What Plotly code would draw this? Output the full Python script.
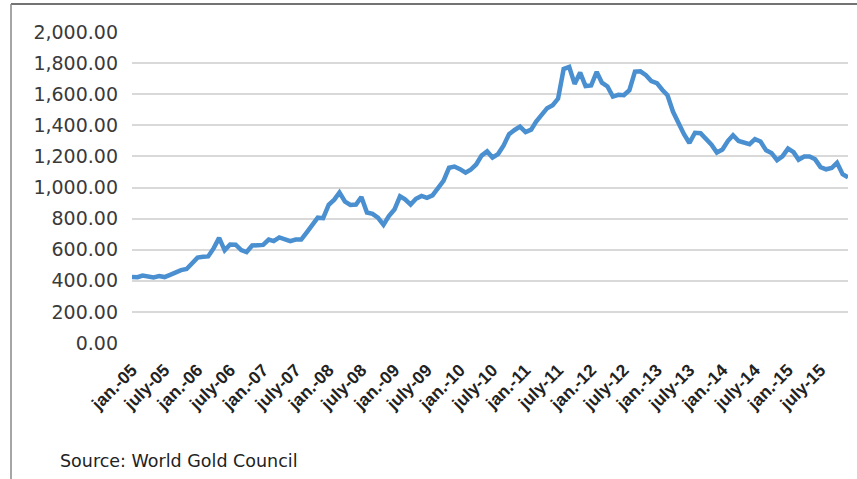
import plotly.graph_objects as go

# Monthly gold price (USD/oz), Jan 2005 - Dec 2015
months = [f"{y}-{m:02d}-01" for y in range(2005, 2016) for m in range(1, 13)]
price_2005 = [424, 423, 434, 429, 422, 430, 424, 438, 456, 469, 476, 510]
price_2006 = [549, 555, 557, 610, 676, 596, 633, 632, 598, 585, 627, 629]
price_2007 = [631, 665, 655, 679, 667, 655, 665, 665, 712, 754, 806, 803]
price_2008 = [889, 922, 968, 909, 888, 890, 939, 839, 830, 806, 760, 816]
price_2009 = [858, 943, 924, 890, 928, 946, 934, 949, 996, 1043, 1127, 1135]
price_2010 = [1118, 1095, 1114, 1148, 1205, 1232, 1193, 1215, 1271, 1343, 1370, 1391]
price_2011 = [1356, 1372, 1424, 1474, 1510, 1529, 1572, 1762, 1775, 1666, 1739, 1652]
price_2012 = [1656, 1743, 1674, 1650, 1585, 1596, 1594, 1626, 1745, 1747, 1722, 1685]
price_2013 = [1671, 1627, 1593, 1487, 1414, 1343, 1286, 1352, 1349, 1316, 1275, 1225]
price_2014 = [1244, 1300, 1336, 1299, 1288, 1279, 1311, 1296, 1239, 1222, 1176, 1200]
price_2015 = [1250, 1227, 1179, 1199, 1199, 1181, 1131, 1117, 1125, 1159, 1086, 1065]
prices = (price_2005 + price_2006 + price_2007 + price_2008 + price_2009 + price_2010
          + price_2011 + price_2012 + price_2013 + price_2014 + price_2015)

tick_dates = [f"{y}-{m:02d}-01" for y in range(2005, 2016) for m in (1, 7)]
tick_labels = [f"{'jan.' if m == 1 else 'july'}-{y % 100:02d}" for y in range(2005, 2016) for m in (1, 7)]
y_ticks = list(range(0, 2001, 200))

W, H = 857, 479
L, R, T, B = 132, 9, 32, 136
pw, ph = W - L - R, H - T - B

fig = go.Figure()
fig.add_trace(go.Scatter(x=months, y=prices, mode="lines",
                         line=dict(color="#4a8fcf", width=4.5), hoverinfo="skip",
                         cliponaxis=False))

fig.update_layout(
    width=W, height=H,
    margin=dict(l=L, r=R, t=T, b=B, autoexpand=False),
    paper_bgcolor="white", plot_bgcolor="white",
    showlegend=False,
    font=dict(family="DejaVu Sans", color="#333333"),
    xaxis=dict(type="date", range=[months[0], months[-1]], automargin=False,
               tickvals=tick_dates, ticktext=tick_labels, tickangle=-45,
               showgrid=False, zeroline=False, showline=False,
               ticks="outside", ticklen=9, tickcolor="rgba(0,0,0,0)",
               tickfont=dict(family="Liberation Sans", size=17.5, color="#222222", weight="bold")),
    yaxis=dict(range=[0, 2000], tickvals=y_ticks, tickformat=",.2f", automargin=False,
               showgrid=True, gridcolor="#d9d9d9", gridwidth=1.5,
               zeroline=False, showline=False, ticks="", ticklabelstandoff=13,
               tickfont=dict(family="DejaVu Sans", size=19, color="#3a3a3a")),
    shapes=[
        dict(type="line", xref="paper", yref="paper",
             x0=(11 - L) / pw, x1=(W - L + 5) / pw,
             y0=(H - B - 4) / ph, y1=(H - B - 4) / ph,
             line=dict(color="#444444", width=1.5)),
        dict(type="line", xref="paper", yref="paper",
             x0=(11 - L) / pw, x1=(11 - L) / pw,
             y0=(H - B - 4) / ph, y1=-(B + 5) / ph,
             line=dict(color="#888888", width=1.5)),
    ],
    annotations=[
        dict(text="Source: World Gold Council", xref="paper", yref="paper",
             x=(58 - L) / pw, y=(H - B - 461) / ph, xanchor="left", yanchor="middle",
             showarrow=False, font=dict(family="DejaVu Sans", size=17.5, color="#222222")),
    ],
)

fig.write_html("out.html", config={"displayModeBar": False},
               post_script="document.body.style.margin='0';document.body.style.overflow='hidden';")
